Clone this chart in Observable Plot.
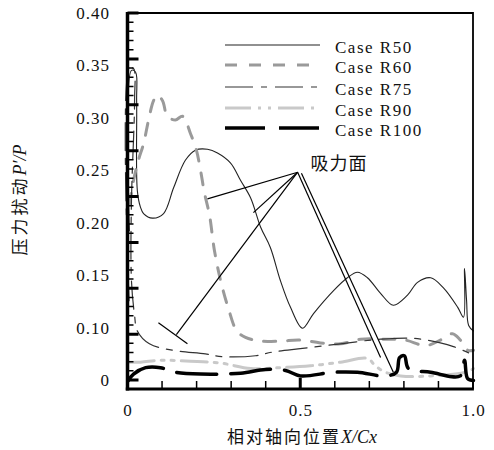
<!DOCTYPE html>
<html><head><meta charset="utf-8">
<script src="https://cdn.jsdelivr.net/npm/d3@7"></script>
<script src="https://cdn.jsdelivr.net/npm/@observablehq/plot@0.6"></script>
<style>
body{margin:0;background:#fff;}
#chart{position:relative;width:494px;height:450px;}
#overlay{position:absolute;left:0;top:0;pointer-events:none;}
</style>
</head><body><div id="chart"></div>
<script>
// ---- data (x = X/Cx, y = P'/P) ----
const seriesNames = ["Case R50","Case R60","Case R75","Case R90","Case R100"];
const caseR50 = [[0.004,0.163],[0.010,0.338],[0.022,0.336],[0.025,0.305],[0.027,0.207],[0.036,0.189],[0.045,0.182],[0.071,0.177],[0.103,0.182],[0.132,0.210],[0.166,0.240],[0.195,0.251],[0.230,0.252],[0.259,0.248],[0.297,0.237],[0.326,0.218],[0.355,0.199],[0.384,0.167],[0.412,0.145],[0.441,0.109],[0.470,0.080],[0.505,0.057],[0.537,0.073],[0.595,0.098],[0.635,0.112],[0.664,0.118],[0.693,0.112],[0.731,0.095],[0.768,0.082],[0.809,0.093],[0.838,0.107],[0.876,0.112],[0.913,0.101],[0.954,0.080],[0.971,0.069],[0.974,0.122],[0.980,0.087],[0.986,0.060],[1.0,0.054]];
const caseR60 = [[0.004,0.191],[0.016,0.218],[0.030,0.240],[0.045,0.258],[0.059,0.283],[0.074,0.305],[0.085,0.311],[0.100,0.305],[0.114,0.288],[0.137,0.284],[0.158,0.288],[0.181,0.269],[0.198,0.251],[0.210,0.229],[0.221,0.205],[0.236,0.180],[0.250,0.142],[0.268,0.109],[0.291,0.078],[0.315,0.054],[0.340,0.047],[0.384,0.043],[0.441,0.043],[0.499,0.044],[0.557,0.041],[0.615,0.040],[0.673,0.045],[0.745,0.045],[0.803,0.044],[0.861,0.038],[0.904,0.044],[0.939,0.051],[0.962,0.044],[0.983,0.033],[1.0,0.033]];
const caseR75 = [[0.003,0.087],[0.004,0.340],[0.016,0.340],[0.019,0.305],[0.010,0.196],[0.010,0.109],[0.019,0.071],[0.027,0.054],[0.062,0.040],[0.129,0.033],[0.224,0.029],[0.274,0.026],[0.369,0.027],[0.418,0.031],[0.505,0.035],[0.615,0.040],[0.731,0.045],[0.826,0.046],[0.904,0.041],[0.942,0.037],[0.992,0.029],[1.0,0.027]];
const caseR90 = [[0.001,0.020],[0.036,0.020],[0.094,0.022],[0.181,0.021],[0.268,0.019],[0.355,0.013],[0.441,0.014],[0.528,0.016],[0.615,0.020],[0.693,0.024],[0.716,0.016],[0.745,0.009],[0.789,0.005],[0.876,0.005],[0.977,0.009],[1.0,0.013]];
const caseR100 = [[0.001,0.000],[0.016,0.007],[0.051,0.014],[0.094,0.014],[0.137,0.009],[0.210,0.007],[0.326,0.008],[0.398,0.012],[0.456,0.011],[0.499,0.005],[0.595,0.009],[0.664,0.009],[0.745,0.005],[0.777,0.009],[0.786,0.025],[0.800,0.027],[0.812,0.013],[0.876,0.009],[0.962,0.005],[0.974,0.022],[0.983,0.002],[1.0,0.000]];
// annotation "吸力面" leader lines: [x1,y1,x2,y2]
const leaderLines = [[0.491,0.227,0.230,0.198],[0.491,0.227,0.363,0.183],[0.491,0.227,0.140,0.050],[0.088,0.063,0.172,0.040],[0.491,0.227,0.731,0.025],[0.502,0.226,0.768,0.009]];
const annotationText = "吸力面";
const annotationPos = [0.528, 0.236];
// axes
const yTickLabels = ["0.40","0.35","0.30","0.25","0.20","0.15","0.10","0"];
const xTickLabels = [[0,"0"],[0.5,"0.5"],[1.0,"1.0"]];
const yMajor = d3.range(0, 0.4001, 0.05);
const yMinor = d3.range(0, 0.4001, 0.01);
const xMinor = d3.range(0, 1.0001, 0.1);
const xMajor = [0.5];

const styles = [
  {stroke:"#222", strokeWidth:1.1, dash:"none"},
  {stroke:"#9a9a9a", strokeWidth:3, dash:"12,12"},
  {stroke:"#333", strokeWidth:1.2, dash:"28,8,6,8"},
  {stroke:"#c9c9c9", strokeWidth:3, dash:"26,7,3,7,3,7"},
  {stroke:"#000", strokeWidth:3.5, dash:"40,14"}
];
const allSeries = [caseR50, caseR60, caseR75, caseR90, caseR100];
const yLabelData = yTickLabels.map((t,i)=>({v: 0.40*(1 - i/7), t}));
const serif = "'Liberation Serif','Times New Roman',serif";
const yMin = -0.0098;

const lineMarks = allSeries.map((s,i)=>Plot.line(s, {x:d=>d[0], y:d=>d[1], stroke:styles[i].stroke, strokeWidth:styles[i].strokeWidth, strokeDasharray:styles[i].dash, curve:"catmull-rom"}));

const plot = Plot.plot({
  width:494, height:450,
  marginLeft:127.5, marginRight:21, marginTop:13, marginBottom:61,
  x:{domain:[0,1], axis:null},
  y:{domain:[yMin,0.40], axis:null},
  style:{fontFamily:serif, background:"#fff"},
  marks:[
    ...lineMarks,
    Plot.link(leaderLines, {x1:d=>d[0], y1:d=>d[1], x2:d=>d[2], y2:d=>d[3], stroke:"#000", strokeWidth:1.2}),
    Plot.text([annotationText], {x:()=>annotationPos[0], y:()=>annotationPos[1], text:d=>d, textAnchor:"start", fontSize:18, fontFamily:"'Noto Sans CJK SC',sans-serif", fill:"#111"}),
    Plot.text(yLabelData, {x:()=>0, y:"v", text:"t", dx:-18, textAnchor:"end", fontSize:17, fill:"#111"}),
    Plot.text(xTickLabels, {x:d=>d[0], y:()=>yMin, text:d=>d[1], dy:21, fontSize:17, fill:"#111"})
  ]
});
const chartDiv = document.getElementById("chart");
chartDiv.append(plot);
const svg = d3.select(plot);
svg.selectAll("text").style("letter-spacing","1px");

// scales taken from the plot
const xs = plot.scale("x"), ys = plot.scale("y");
const X = d3.scaleLinear(xs.domain, xs.range);
const Y = d3.scaleLinear(ys.domain, ys.range);
const x0 = X(0), x1 = X(1), y0 = Y(yMin), yTop = Y(0.40);

// overlay svg: frame, axes and ticks drawn as paths
const ov = d3.select(chartDiv).append("svg").attr("id","overlay")
  .attr("width",494).attr("height",450).attr("viewBox","0 0 494 450");
function seg(pts){ return "M" + pts.map(p=>p[0].toFixed(2)+","+p[1].toFixed(2)).join("L"); }
const addPath = (d, w) => ov.append("path").attr("d", d).attr("fill","none").attr("stroke","#000").attr("stroke-width", w);
addPath(yMinor.map(v=>seg([[x0,Y(v)],[x0+6,Y(v)]])).join(""), 1.5);
addPath(yMajor.map(v=>seg([[x0,Y(v)],[x0+11,Y(v)]])).join(""), 3);
addPath(xMinor.map(v=>seg([[X(v),y0],[X(v),y0-8]])).join(""), 1.5);
addPath(xMajor.map(v=>seg([[X(v),y0],[X(v),y0-11]])).join(""), 3);
addPath(seg([[x0,yTop],[x1,yTop],[x1,y0]]), 1.8);
addPath(seg([[x0,yTop-0.9],[x0,y0+1.5]]), 3.5);
addPath(seg([[x0-1.7,y0],[x1+0.9,y0]]), 3);

// legend
const lg = ov.append("g");
const legendRowsY = [45,65,87,108,128];
seriesNames.forEach((n,i)=>{
  lg.append("path").attr("d", seg([[225,legendRowsY[i]],[320,legendRowsY[i]]])).attr("fill","none")
    .attr("stroke",styles[i].stroke).attr("stroke-width",styles[i].strokeWidth)
    .attr("stroke-dasharray",styles[i].dash);
  lg.append("text").attr("x",335).attr("y",legendRowsY[i]+3).attr("dy","0.32em").attr("text-anchor","start")
    .attr("font-family",serif).attr("font-size",17).style("letter-spacing","1.5px").attr("fill","#111").text(n);
});
// axis titles
const xt = ov.append("text").attr("x",302).attr("y",443).attr("text-anchor","middle").attr("font-size",17).attr("fill","#111");
xt.append("tspan").attr("font-family","'Noto Sans CJK SC',sans-serif").style("letter-spacing","2px").text("相对轴向位置");
xt.append("tspan").attr("font-family",serif).attr("font-style","italic").attr("font-size",18).text("X/Cx");
const yt = ov.append("text").attr("transform","translate(26,200) rotate(-90)").attr("text-anchor","middle").attr("font-size",17).attr("fill","#111");
yt.append("tspan").attr("font-family","'Noto Sans CJK SC',sans-serif").style("letter-spacing","3px").text("压力扰动");
yt.append("tspan").attr("font-family",serif).attr("font-style","italic").attr("font-size",18).text("P′/P");
</script>
</body></html>
